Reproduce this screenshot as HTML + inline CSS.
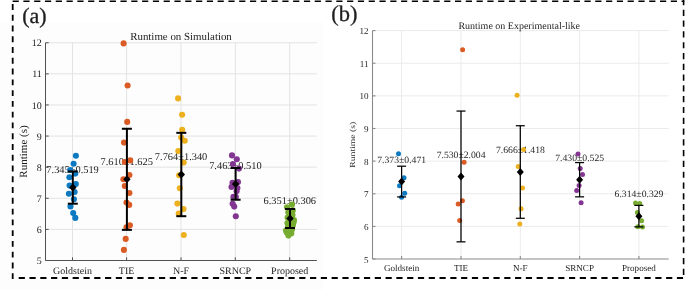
<!DOCTYPE html>
<html><head><meta charset="utf-8"><title>Runtime</title>
<style>
html,body{margin:0;padding:0;background:#fff;width:685px;height:290px;overflow:hidden}
svg{display:block}
text{font-family:"Liberation Serif",serif;fill:#1e1e1e;filter:grayscale(1);text-rendering:geometricPrecision}
</style></head>
<body>
<svg width="685" height="290" viewBox="0 0 685 290">
<rect x="0" y="0" width="685" height="290" fill="#ffffff"/>
<rect x="0" y="21.8" width="322.9" height="268.2" fill="#fdfdfd"/>
<line x1="45.5" y1="229.39" x2="316.9" y2="229.39" stroke="#e3e3e3" stroke-width="1"/>
<line x1="45.5" y1="198.29" x2="316.9" y2="198.29" stroke="#e3e3e3" stroke-width="1"/>
<line x1="45.5" y1="167.18" x2="316.9" y2="167.18" stroke="#e3e3e3" stroke-width="1"/>
<line x1="45.5" y1="136.07" x2="316.9" y2="136.07" stroke="#e3e3e3" stroke-width="1"/>
<line x1="45.5" y1="104.96" x2="316.9" y2="104.96" stroke="#e3e3e3" stroke-width="1"/>
<line x1="45.5" y1="73.86" x2="316.9" y2="73.86" stroke="#e3e3e3" stroke-width="1"/>
<line x1="45.5" y1="42.75" x2="316.9" y2="42.75" stroke="#e3e3e3" stroke-width="1"/>
<line x1="72.5" y1="42.75" x2="72.5" y2="260.5" stroke="#e3e3e3" stroke-width="1"/>
<line x1="126.6" y1="42.75" x2="126.6" y2="260.5" stroke="#e3e3e3" stroke-width="1"/>
<line x1="181" y1="42.75" x2="181" y2="260.5" stroke="#e3e3e3" stroke-width="1"/>
<line x1="235.3" y1="42.75" x2="235.3" y2="260.5" stroke="#e3e3e3" stroke-width="1"/>
<line x1="289.7" y1="42.75" x2="289.7" y2="260.5" stroke="#e3e3e3" stroke-width="1"/>
<line x1="45.5" y1="42.75" x2="45.5" y2="260.5" stroke="#525252" stroke-width="1"/>
<line x1="45.5" y1="260.5" x2="316.9" y2="260.5" stroke="#525252" stroke-width="1"/>
<line x1="45.5" y1="260.5" x2="48.7" y2="260.5" stroke="#525252" stroke-width="1"/>
<line x1="45.5" y1="229.39" x2="48.7" y2="229.39" stroke="#525252" stroke-width="1"/>
<line x1="45.5" y1="198.29" x2="48.7" y2="198.29" stroke="#525252" stroke-width="1"/>
<line x1="45.5" y1="167.18" x2="48.7" y2="167.18" stroke="#525252" stroke-width="1"/>
<line x1="45.5" y1="136.07" x2="48.7" y2="136.07" stroke="#525252" stroke-width="1"/>
<line x1="45.5" y1="104.96" x2="48.7" y2="104.96" stroke="#525252" stroke-width="1"/>
<line x1="45.5" y1="73.86" x2="48.7" y2="73.86" stroke="#525252" stroke-width="1"/>
<line x1="45.5" y1="42.75" x2="48.7" y2="42.75" stroke="#525252" stroke-width="1"/>
<line x1="72.5" y1="260.5" x2="72.5" y2="257.3" stroke="#525252" stroke-width="1"/>
<line x1="126.6" y1="260.5" x2="126.6" y2="257.3" stroke="#525252" stroke-width="1"/>
<line x1="181" y1="260.5" x2="181" y2="257.3" stroke="#525252" stroke-width="1"/>
<line x1="235.3" y1="260.5" x2="235.3" y2="257.3" stroke="#525252" stroke-width="1"/>
<line x1="289.7" y1="260.5" x2="289.7" y2="257.3" stroke="#525252" stroke-width="1"/>
<text x="41.8" y="264.1" text-anchor="end" font-size="10">5</text>
<text x="41.8" y="232.99" text-anchor="end" font-size="10">6</text>
<text x="41.8" y="201.89" text-anchor="end" font-size="10">7</text>
<text x="41.8" y="170.78" text-anchor="end" font-size="10">8</text>
<text x="41.8" y="139.67" text-anchor="end" font-size="10">9</text>
<text x="41.8" y="108.56" text-anchor="end" font-size="10">10</text>
<text x="41.8" y="77.46" text-anchor="end" font-size="10">11</text>
<text x="41.8" y="46.35" text-anchor="end" font-size="10">12</text>
<text x="72.5" y="273.6" text-anchor="middle" font-size="10">Goldstein</text>
<text x="126.6" y="273.6" text-anchor="middle" font-size="10">TIE</text>
<text x="181" y="273.6" text-anchor="middle" font-size="10">N-F</text>
<text x="235.3" y="273.6" text-anchor="middle" font-size="10">SRNCP</text>
<text x="289.7" y="273.6" text-anchor="middle" font-size="10">Proposed</text>
<text x="0" y="0" transform="translate(27,151.5) scale(1,1) rotate(-90)" text-anchor="middle" font-size="11">Runtime (s)</text>
<text x="181" y="40.3" text-anchor="middle" font-size="10.9">Runtime on Simulation</text>
<text x="72.6" y="172.95" text-anchor="middle" font-size="10.4">7.345±0.519</text>
<text x="126.7" y="164.71" text-anchor="middle" font-size="10.4">7.610±1.625</text>
<text x="181.1" y="159.92" text-anchor="middle" font-size="10.4">7.764±1.340</text>
<text x="235.4" y="169.28" text-anchor="middle" font-size="10.4">7.463±0.510</text>
<text x="289.8" y="203.87" text-anchor="middle" font-size="10.4">6.351±0.306</text>
<circle cx="75.9" cy="155.7" r="3.05" fill="#0C79C1"/>
<circle cx="73.6" cy="163.7" r="3.05" fill="#0C79C1"/>
<circle cx="70.2" cy="170" r="3.05" fill="#0C79C1"/>
<circle cx="75.3" cy="173.6" r="3.05" fill="#0C79C1"/>
<circle cx="69.4" cy="177.3" r="3.05" fill="#0C79C1"/>
<circle cx="75.8" cy="184.1" r="3.05" fill="#0C79C1"/>
<circle cx="69.6" cy="185.6" r="3.05" fill="#0C79C1"/>
<circle cx="74.6" cy="192" r="3.05" fill="#0C79C1"/>
<circle cx="68.9" cy="193.8" r="3.05" fill="#0C79C1"/>
<circle cx="73.9" cy="199.3" r="3.05" fill="#0C79C1"/>
<circle cx="70.5" cy="206.4" r="3.05" fill="#0C79C1"/>
<circle cx="73.2" cy="213.1" r="3.05" fill="#0C79C1"/>
<circle cx="75.3" cy="217.9" r="3.05" fill="#0C79C1"/>
<circle cx="123.6" cy="43.4" r="3.05" fill="#DB5B24"/>
<circle cx="127.6" cy="85.5" r="3.05" fill="#DB5B24"/>
<circle cx="127.2" cy="121.9" r="3.05" fill="#DB5B24"/>
<circle cx="124" cy="142.6" r="3.05" fill="#DB5B24"/>
<circle cx="124.8" cy="162" r="3.05" fill="#DB5B24"/>
<circle cx="130.2" cy="160.4" r="3.05" fill="#DB5B24"/>
<circle cx="129.4" cy="175" r="3.05" fill="#DB5B24"/>
<circle cx="123.4" cy="179.2" r="3.05" fill="#DB5B24"/>
<circle cx="124.8" cy="186" r="3.05" fill="#DB5B24"/>
<circle cx="129.4" cy="193" r="3.05" fill="#DB5B24"/>
<circle cx="126.5" cy="202.6" r="3.05" fill="#DB5B24"/>
<circle cx="129.2" cy="204.9" r="3.05" fill="#DB5B24"/>
<circle cx="129.9" cy="225.3" r="3.05" fill="#DB5B24"/>
<circle cx="126.5" cy="227.4" r="3.05" fill="#DB5B24"/>
<circle cx="125.7" cy="238.9" r="3.05" fill="#DB5B24"/>
<circle cx="123.9" cy="249.9" r="3.05" fill="#DB5B24"/>
<circle cx="178.1" cy="98.4" r="3.05" fill="#EDB120"/>
<circle cx="182.1" cy="114.7" r="3.05" fill="#EDB120"/>
<circle cx="182.2" cy="129.7" r="3.05" fill="#EDB120"/>
<circle cx="181.2" cy="137.6" r="3.05" fill="#EDB120"/>
<circle cx="184.8" cy="140.8" r="3.05" fill="#EDB120"/>
<circle cx="178.3" cy="151.1" r="3.05" fill="#EDB120"/>
<circle cx="183.7" cy="162.6" r="3.05" fill="#EDB120"/>
<circle cx="179.1" cy="175.2" r="3.05" fill="#EDB120"/>
<circle cx="179.8" cy="188.3" r="3.05" fill="#EDB120"/>
<circle cx="177.4" cy="203.6" r="3.05" fill="#EDB120"/>
<circle cx="183.5" cy="209.1" r="3.05" fill="#EDB120"/>
<circle cx="178.7" cy="213.6" r="3.05" fill="#EDB120"/>
<circle cx="183.8" cy="235" r="3.05" fill="#EDB120"/>
<circle cx="232" cy="155.4" r="3.05" fill="#823691"/>
<circle cx="236.8" cy="159.3" r="3.05" fill="#823691"/>
<circle cx="232.9" cy="164" r="3.05" fill="#823691"/>
<circle cx="239" cy="168.6" r="3.05" fill="#823691"/>
<circle cx="232.5" cy="182.9" r="3.05" fill="#823691"/>
<circle cx="238" cy="182" r="3.05" fill="#823691"/>
<circle cx="231.5" cy="187" r="3.05" fill="#823691"/>
<circle cx="237.4" cy="188" r="3.05" fill="#823691"/>
<circle cx="236.6" cy="191.2" r="3.05" fill="#823691"/>
<circle cx="233.4" cy="196.9" r="3.05" fill="#823691"/>
<circle cx="235.8" cy="196.9" r="3.05" fill="#823691"/>
<circle cx="232.6" cy="203.8" r="3.05" fill="#823691"/>
<circle cx="234.2" cy="206.6" r="3.05" fill="#823691"/>
<circle cx="235.8" cy="216.3" r="3.05" fill="#823691"/>
<circle cx="292" cy="204.6" r="3.05" fill="#77AC30"/>
<circle cx="287" cy="207.3" r="3.05" fill="#77AC30"/>
<circle cx="292.8" cy="210.4" r="3.05" fill="#77AC30"/>
<circle cx="288.3" cy="212.2" r="3.05" fill="#77AC30"/>
<circle cx="292.5" cy="215" r="3.05" fill="#77AC30"/>
<circle cx="287.6" cy="217.6" r="3.05" fill="#77AC30"/>
<circle cx="294" cy="220" r="3.05" fill="#77AC30"/>
<circle cx="293.6" cy="222.3" r="3.05" fill="#77AC30"/>
<circle cx="287.4" cy="223" r="3.05" fill="#77AC30"/>
<circle cx="293" cy="225" r="3.05" fill="#77AC30"/>
<circle cx="288" cy="226.5" r="3.05" fill="#77AC30"/>
<circle cx="286" cy="230.6" r="3.05" fill="#77AC30"/>
<circle cx="292" cy="229.5" r="3.05" fill="#77AC30"/>
<circle cx="286.8" cy="232.5" r="3.05" fill="#77AC30"/>
<circle cx="291.3" cy="233.5" r="3.05" fill="#77AC30"/>
<circle cx="288.4" cy="235.6" r="3.05" fill="#77AC30"/>
<line x1="72.8" y1="171.41" x2="72.8" y2="203.7" stroke="#000" stroke-width="2"/>
<line x1="67.8" y1="171.41" x2="77.8" y2="171.41" stroke="#000" stroke-width="2"/>
<line x1="67.8" y1="203.7" x2="77.8" y2="203.7" stroke="#000" stroke-width="2"/>
<path d="M72.8 183.55L76.5 187.55L72.8 191.55L69.1 187.55Z" fill="#000"/>
<line x1="126.9" y1="128.76" x2="126.9" y2="229.86" stroke="#000" stroke-width="2"/>
<line x1="121.9" y1="128.76" x2="131.9" y2="128.76" stroke="#000" stroke-width="2"/>
<line x1="121.9" y1="229.86" x2="131.9" y2="229.86" stroke="#000" stroke-width="2"/>
<path d="M126.9 175.31L130.6 179.31L126.9 183.31L123.2 179.31Z" fill="#000"/>
<line x1="181.3" y1="132.84" x2="181.3" y2="216.2" stroke="#000" stroke-width="2"/>
<line x1="176.3" y1="132.84" x2="186.3" y2="132.84" stroke="#000" stroke-width="2"/>
<line x1="176.3" y1="216.2" x2="186.3" y2="216.2" stroke="#000" stroke-width="2"/>
<path d="M181.3 170.52L185 174.52L181.3 178.52L177.6 174.52Z" fill="#000"/>
<line x1="235.6" y1="168.02" x2="235.6" y2="199.75" stroke="#000" stroke-width="2"/>
<line x1="230.6" y1="168.02" x2="240.6" y2="168.02" stroke="#000" stroke-width="2"/>
<line x1="230.6" y1="199.75" x2="240.6" y2="199.75" stroke="#000" stroke-width="2"/>
<path d="M235.6 179.88L239.3 183.88L235.6 187.88L231.9 183.88Z" fill="#000"/>
<line x1="290" y1="208.96" x2="290" y2="227.99" stroke="#000" stroke-width="2"/>
<line x1="285" y1="208.96" x2="295" y2="208.96" stroke="#000" stroke-width="2"/>
<line x1="285" y1="227.99" x2="295" y2="227.99" stroke="#000" stroke-width="2"/>
<path d="M290 214.47L293.7 218.47L290 222.47L286.3 218.47Z" fill="#000"/>
<line x1="372.5" y1="226.37" x2="668.6" y2="226.37" stroke="#ebebeb" stroke-width="1"/>
<line x1="372.5" y1="193.74" x2="668.6" y2="193.74" stroke="#ebebeb" stroke-width="1"/>
<line x1="372.5" y1="161.11" x2="668.6" y2="161.11" stroke="#ebebeb" stroke-width="1"/>
<line x1="372.5" y1="128.49" x2="668.6" y2="128.49" stroke="#ebebeb" stroke-width="1"/>
<line x1="372.5" y1="95.86" x2="668.6" y2="95.86" stroke="#ebebeb" stroke-width="1"/>
<line x1="372.5" y1="63.23" x2="668.6" y2="63.23" stroke="#ebebeb" stroke-width="1"/>
<line x1="372.5" y1="30.6" x2="668.6" y2="30.6" stroke="#ebebeb" stroke-width="1"/>
<line x1="401.6" y1="30.6" x2="401.6" y2="259" stroke="#ebebeb" stroke-width="1"/>
<line x1="461" y1="30.6" x2="461" y2="259" stroke="#ebebeb" stroke-width="1"/>
<line x1="520.3" y1="30.6" x2="520.3" y2="259" stroke="#ebebeb" stroke-width="1"/>
<line x1="579.6" y1="30.6" x2="579.6" y2="259" stroke="#ebebeb" stroke-width="1"/>
<line x1="638.9" y1="30.6" x2="638.9" y2="259" stroke="#ebebeb" stroke-width="1"/>
<line x1="372.5" y1="30.6" x2="372.5" y2="259" stroke="#8a8a8a" stroke-width="1.1"/>
<line x1="372.5" y1="259" x2="668.6" y2="259" stroke="#8a8a8a" stroke-width="1.1"/>
<line x1="372.5" y1="259" x2="375.5" y2="259" stroke="#8a8a8a" stroke-width="1.1"/>
<line x1="372.5" y1="226.37" x2="375.5" y2="226.37" stroke="#8a8a8a" stroke-width="1.1"/>
<line x1="372.5" y1="193.74" x2="375.5" y2="193.74" stroke="#8a8a8a" stroke-width="1.1"/>
<line x1="372.5" y1="161.11" x2="375.5" y2="161.11" stroke="#8a8a8a" stroke-width="1.1"/>
<line x1="372.5" y1="128.49" x2="375.5" y2="128.49" stroke="#8a8a8a" stroke-width="1.1"/>
<line x1="372.5" y1="95.86" x2="375.5" y2="95.86" stroke="#8a8a8a" stroke-width="1.1"/>
<line x1="372.5" y1="63.23" x2="375.5" y2="63.23" stroke="#8a8a8a" stroke-width="1.1"/>
<line x1="372.5" y1="30.6" x2="375.5" y2="30.6" stroke="#8a8a8a" stroke-width="1.1"/>
<line x1="401.6" y1="259" x2="401.6" y2="256" stroke="#8a8a8a" stroke-width="1.1"/>
<line x1="461" y1="259" x2="461" y2="256" stroke="#8a8a8a" stroke-width="1.1"/>
<line x1="520.3" y1="259" x2="520.3" y2="256" stroke="#8a8a8a" stroke-width="1.1"/>
<line x1="579.6" y1="259" x2="579.6" y2="256" stroke="#8a8a8a" stroke-width="1.1"/>
<line x1="638.9" y1="259" x2="638.9" y2="256" stroke="#8a8a8a" stroke-width="1.1"/>
<text x="368.6" y="262.6" text-anchor="end" font-size="9.1">5</text>
<text x="368.6" y="229.97" text-anchor="end" font-size="9.1">6</text>
<text x="368.6" y="197.34" text-anchor="end" font-size="9.1">7</text>
<text x="368.6" y="164.71" text-anchor="end" font-size="9.1">8</text>
<text x="368.6" y="132.09" text-anchor="end" font-size="9.1">9</text>
<text x="368.6" y="99.46" text-anchor="end" font-size="9.1">10</text>
<text x="368.6" y="66.83" text-anchor="end" font-size="9.1">11</text>
<text x="368.6" y="34.2" text-anchor="end" font-size="9.1">12</text>
<text x="401.6" y="270.9" text-anchor="middle" font-size="9.1">Goldstein</text>
<text x="461" y="270.9" text-anchor="middle" font-size="9.1">TIE</text>
<text x="520.3" y="270.9" text-anchor="middle" font-size="9.1">N-F</text>
<text x="579.6" y="270.9" text-anchor="middle" font-size="9.1">SRNCP</text>
<text x="638.9" y="270.9" text-anchor="middle" font-size="9.1">Proposed</text>
<text x="0" y="0" transform="translate(354.6,144.7) scale(0.8,1) rotate(-90)" text-anchor="middle" font-size="9.7">Runtime (s)</text>
<text x="519.2" y="28.6" text-anchor="middle" font-size="10">Runtime on Experimental-like</text>
<text x="401.7" y="162.77" text-anchor="middle" font-size="9.7">7.373±0.471</text>
<text x="461.1" y="157.65" text-anchor="middle" font-size="9.7">7.530±2.004</text>
<text x="520.4" y="153.21" text-anchor="middle" font-size="9.7">7.666±1.418</text>
<text x="579.7" y="160.91" text-anchor="middle" font-size="9.7">7.430±0.525</text>
<text x="639" y="197.33" text-anchor="middle" font-size="9.7">6.314±0.329</text>
<circle cx="398.5" cy="153.7" r="2.5" fill="#0C79C1"/>
<circle cx="404" cy="177.7" r="2.5" fill="#0C79C1"/>
<circle cx="399.5" cy="185.8" r="2.5" fill="#0C79C1"/>
<circle cx="404.7" cy="193.2" r="2.5" fill="#0C79C1"/>
<circle cx="401.6" cy="197.2" r="2.5" fill="#0C79C1"/>
<circle cx="462.6" cy="49.8" r="2.5" fill="#DB5B24"/>
<circle cx="464.1" cy="162.2" r="2.5" fill="#DB5B24"/>
<circle cx="462.4" cy="200.8" r="2.5" fill="#DB5B24"/>
<circle cx="458.2" cy="204.1" r="2.5" fill="#DB5B24"/>
<circle cx="459.7" cy="220.6" r="2.5" fill="#DB5B24"/>
<circle cx="517.1" cy="95.2" r="2.5" fill="#EDB120"/>
<circle cx="523.6" cy="149.6" r="2.5" fill="#EDB120"/>
<circle cx="518.2" cy="166.4" r="2.5" fill="#EDB120"/>
<circle cx="522.5" cy="188" r="2.5" fill="#EDB120"/>
<circle cx="521.1" cy="208.8" r="2.5" fill="#EDB120"/>
<circle cx="519.8" cy="224" r="2.5" fill="#EDB120"/>
<circle cx="578" cy="154" r="2.5" fill="#823691"/>
<circle cx="580.2" cy="168.5" r="2.5" fill="#823691"/>
<circle cx="582.5" cy="174.6" r="2.5" fill="#823691"/>
<circle cx="579.1" cy="185.4" r="2.5" fill="#823691"/>
<circle cx="576.7" cy="190.5" r="2.5" fill="#823691"/>
<circle cx="581.1" cy="202.8" r="2.5" fill="#823691"/>
<circle cx="635.5" cy="203" r="2.5" fill="#77AC30"/>
<circle cx="639.7" cy="203.6" r="2.5" fill="#77AC30"/>
<circle cx="637.4" cy="212.5" r="2.5" fill="#77AC30"/>
<circle cx="641.6" cy="220.7" r="2.5" fill="#77AC30"/>
<circle cx="637.8" cy="226.7" r="2.5" fill="#77AC30"/>
<circle cx="642.5" cy="227.1" r="2.5" fill="#77AC30"/>
<line x1="401.6" y1="166.2" x2="401.6" y2="196.94" stroke="#000" stroke-width="1.25"/>
<line x1="397.1" y1="166.2" x2="406.1" y2="166.2" stroke="#000" stroke-width="1.25"/>
<line x1="397.1" y1="196.94" x2="406.1" y2="196.94" stroke="#000" stroke-width="1.25"/>
<path d="M401.6 177.57L405.1 181.57L401.6 185.57L398.1 181.57Z" fill="#000"/>
<line x1="461" y1="111.06" x2="461" y2="241.84" stroke="#000" stroke-width="1.25"/>
<line x1="456.5" y1="111.06" x2="465.5" y2="111.06" stroke="#000" stroke-width="1.25"/>
<line x1="456.5" y1="241.84" x2="465.5" y2="241.84" stroke="#000" stroke-width="1.25"/>
<path d="M461 172.45L464.5 176.45L461 180.45L457.5 176.45Z" fill="#000"/>
<line x1="520.3" y1="125.74" x2="520.3" y2="218.28" stroke="#000" stroke-width="1.25"/>
<line x1="515.8" y1="125.74" x2="524.8" y2="125.74" stroke="#000" stroke-width="1.25"/>
<line x1="515.8" y1="218.28" x2="524.8" y2="218.28" stroke="#000" stroke-width="1.25"/>
<path d="M520.3 168.01L523.8 172.01L520.3 176.01L516.8 172.01Z" fill="#000"/>
<line x1="579.6" y1="162.58" x2="579.6" y2="196.84" stroke="#000" stroke-width="1.25"/>
<line x1="575.1" y1="162.58" x2="584.1" y2="162.58" stroke="#000" stroke-width="1.25"/>
<line x1="575.1" y1="196.84" x2="584.1" y2="196.84" stroke="#000" stroke-width="1.25"/>
<path d="M579.6 175.71L583.1 179.71L579.6 183.71L576.1 179.71Z" fill="#000"/>
<line x1="638.9" y1="205.39" x2="638.9" y2="226.86" stroke="#000" stroke-width="1.25"/>
<line x1="634.4" y1="205.39" x2="643.4" y2="205.39" stroke="#000" stroke-width="1.25"/>
<line x1="634.4" y1="226.86" x2="643.4" y2="226.86" stroke="#000" stroke-width="1.25"/>
<path d="M638.9 212.13L642.4 216.13L638.9 220.13L635.4 216.13Z" fill="#000"/>
<text x="22.2" y="22.9" font-size="22" stroke="#1e1e1e" stroke-width="0.3">(a)</text>
<text x="331.3" y="21.3" font-size="22.5" stroke="#1e1e1e" stroke-width="0.3">(b)</text>
<line x1="12.6" y1="1.25" x2="684.2" y2="1.25" stroke="#000" stroke-width="1.6" stroke-dasharray="6.2 4.59"/>
<line x1="18.7" y1="278" x2="684.2" y2="278" stroke="#000" stroke-width="2" stroke-dasharray="6.2 4.59"/>
<line x1="12.7" y1="4" x2="12.7" y2="278.9" stroke="#000" stroke-width="1.8" stroke-dasharray="5.9 4.87"/>
<line x1="683.6" y1="0" x2="683.6" y2="278" stroke="#000" stroke-width="1.6" stroke-dasharray="6.2 4.59" stroke-dashoffset="1.0"/>
</svg>
</body></html>
